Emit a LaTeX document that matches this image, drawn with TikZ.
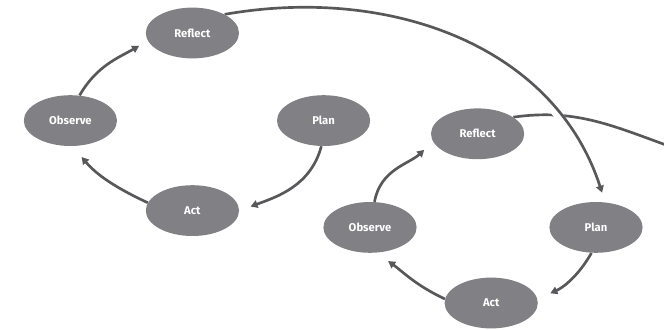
\documentclass[tikz,border=0pt]{standalone}
\usepackage{fontspec}
\usepackage{tikz}
\usetikzlibrary{shapes.geometric,arrows.meta}
\newfontfamily\stagefont{Fira Sans}
\definecolor{stagegray}{RGB}{128,128,133}
\definecolor{arrowgray}{RGB}{88,88,90}
\pgfdeclarelayer{bg}
\pgfsetlayers{bg,main}

\tikzset{
	stage/.style={ellipse, fill=stagegray, text=white, inner sep=0pt,
		minimum width=2.33cm, minimum height=1.27cm,
		font=\stagefont\bfseries\fontsize{8}{9}\selectfont},
	cyc/.style={draw=arrowgray, line width=1.9pt, -{Triangle[length=5pt,width=5.5pt]}},
	gap/.style={draw=white, line width=0.22cm}
}

\begin{document}
\begin{tikzpicture}
	\useasboundingbox (0,0) rectangle (16.6,8.225);
	
	%FIRST CYCLE
	\node[stage] (ref1) at (4.81,7.40) {Reflect};
	\node[stage] (obs1) at (1.76,5.21) {Observe};
	\node[stage] (pla1) at (8.09,5.21) {Plan};
	\node[stage] (act1) at (4.81,2.96) {Act};
	
	%SECOND CYCLE
	\node[stage] (ref2) at (11.94,4.88) {Reflect};
	\node[stage] (obs2) at (9.25,2.54) {Observe};
	\node[stage] (pla2) at (14.90,2.54) {Plan};
	\node[stage] (act2) at (12.28,0.65) {Act};
	\coordinate (exit) at (16.65,4.60);
	
	\begin{pgfonlayer}{bg}
	%ARROWS -- first cycle
	\draw[cyc, shorten >=0.25cm] (obs1.70) to[out=60,in=210] (ref1.190);
	\draw[cyc, shorten >=0.3cm] (pla1.265) to[out=255,in=20] (act1.east);
	\draw[cyc, shorten >=0.35cm] (act1.170) to[out=155,in=310] (obs1.275);
	
	%ARROWS -- second cycle
	\draw[cyc, shorten >=0.3cm] (obs2.80) to[out=80,in=223] (ref2.190);
	\draw[cyc, shorten >=0.35cm] (pla2.260) to[out=240,in=24] (act2.5);
	\draw[cyc, shorten >=0.35cm] (act2.175) to[out=155,in=324] (obs2.285);
	\draw[cyc, -] (ref2.25) to[out=8,in=160] (exit);
	
	%LINK -- over the top, with a white gap where it crosses
	\draw[gap] (ref1.30) to[out=10,in=108] (pla2.70);
	\draw[cyc, shorten >=0.25cm] (ref1.30) to[out=10,in=108] (pla2.70);
	\end{pgfonlayer}
\end{tikzpicture}
\end{document}
